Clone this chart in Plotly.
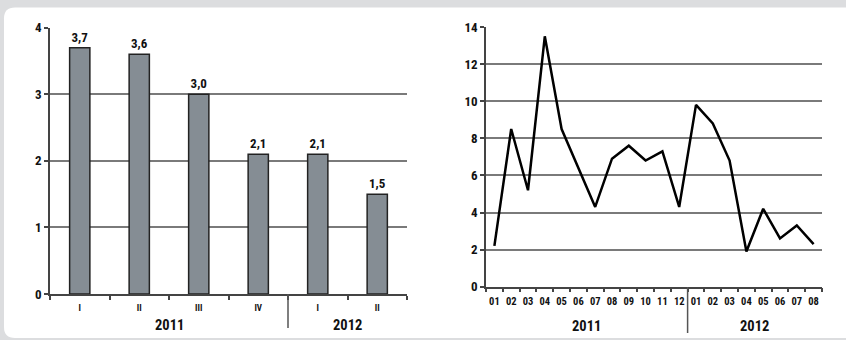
import plotly.graph_objects as go

# ---- data ----
q_years = ["2011", "2011", "2011", "2011", "2012", "2012"]
q_labels = ["I", "II", "III", "IV", "I", "II"]
q_values = [3.7, 3.6, 3.0, 2.1, 2.1, 1.5]

m_years = ["2011"] * 12 + ["2012"] * 8
m_labels = ["01", "02", "03", "04", "05", "06", "07", "08", "09", "10", "11", "12",
            "01", "02", "03", "04", "05", "06", "07", "08"]
m_values = [2.2, 8.5, 5.2, 13.5, 8.5, 6.4, 4.3, 6.9, 7.6, 6.8, 7.3, 4.3,
            9.8, 8.8, 6.8, 1.9, 4.2, 2.6, 3.3, 2.3]

W, H = 846, 340
def px(x):
    return x / W
def py(y):
    return 1 - y / H

FONT = "Liberation Sans Narrow, Roboto Condensed, Arial Narrow, Liberation Sans, sans-serif"
DARK = "#111111"
AXC = "#444444"
GRID = "#7a7a7a"

qx = list(range(len(q_values)))
mx = list(range(len(m_values)))

fig = go.Figure()

fig.add_trace(go.Bar(
    x=qx, y=q_values,
    width=0.34,
    marker=dict(color="#858d94", line=dict(color="#222222", width=1.5)),
    texttemplate="<b>%{y:.1f}</b>",
    textposition="outside",
    textfont=dict(size=13, color=DARK, family=FONT),
    cliponaxis=False,
    xaxis="x", yaxis="y",
    showlegend=False,
))

fig.add_trace(go.Scatter(
    x=mx, y=m_values,
    mode="lines",
    line=dict(color="#000000", width=2.5),
    xaxis="x2", yaxis="y2",
    showlegend=False,
))

def groups(years):
    out = []
    start = 0
    for i in range(1, len(years) + 1):
        if i == len(years) or years[i] != years[start]:
            out.append((years[start], start, i - 1))
            start = i
    return out

def xaxis_cfg(n, labels, dom, anchor, size, standoff):
    return dict(
        domain=dom, anchor=anchor, automargin=False,
        range=[-0.5, n - 0.5],
        showline=True, linecolor=AXC, linewidth=1.5,
        showgrid=False, zeroline=False,
        tickmode="array", tickvals=list(range(n)),
        ticktext=[f"<b>{l}</b>" for l in labels],
        ticks="", tickangle=0, ticklabelstandoff=standoff,
        tickfont=dict(family=FONT, size=size, color=DARK),
        minor=dict(tickmode="array",
                   tickvals=[i - 0.5 for i in range(n + 1)],
                   ticks="outside", ticklen=4, tickwidth=1.5, tickcolor=AXC,
                   showgrid=False),
    )

def yaxis_cfg(rng, dt, dom, anchor):
    return dict(
        domain=dom, anchor=anchor, automargin=False,
        range=rng, dtick=dt, tickformat="d",
        showline=True, linecolor=AXC, linewidth=1.5,
        showgrid=True, gridcolor=GRID, gridwidth=1.5,
        zeroline=False,
        ticks="outside", ticklen=4, tickwidth=1.5, tickcolor=AXC,
        tickprefix="<b>", ticksuffix="</b>",
        tickfont=dict(family=FONT, size=13, color=DARK),
    )

fig.update_layout(
    width=W, height=H,
    margin=dict(l=0, r=0, t=0, b=0),
    paper_bgcolor="#dcdddf",
    plot_bgcolor="rgba(0,0,0,0)",
    separators=",.",
    font=dict(family=FONT, color=DARK),
    xaxis=xaxis_cfg(len(q_labels), q_labels, [px(50), px(407)], "y", 9, 4),
    yaxis=yaxis_cfg([0, 4], 1, [py(294), py(27.7)], "x"),
    xaxis2=xaxis_cfg(len(m_labels), m_labels, [px(486), px(822)], "y2", 10.5, 4),
    yaxis2=yaxis_cfg([0, 14], 2, [py(286.7), py(27)], "x2"),
)

# year labels and dividers (derived from the year lists)
for years, xref, ylab, ytop, ybot in [(q_years, "x", 325, 294, 328),
                                      (m_years, "x2", 326, 287, 333)]:
    g = groups(years)
    for name, s, e in g:
        fig.add_annotation(x=(s + e) / 2, xref=xref, y=py(ylab), yref="paper",
                           text=f"<b>{name}</b>", showarrow=False,
                           font=dict(family=FONT, size=14.5, color=DARK),
                           yanchor="middle")
    for name, s, e in g[1:]:
        fig.add_shape(type="line", xref=xref, yref="paper",
                      x0=s - 0.5, x1=s - 0.5, y0=py(ytop), y1=py(ybot),
                      line=dict(color="#555555", width=1.5))

# white rounded panel
x0, x1, y0, y1, r = 4, 860, 7.5, 338, 11
path = (f"M {px(x0+r)},{py(y0)} L {px(x1)},{py(y0)} L {px(x1)},{py(y1)} "
        f"L {px(x0+r)},{py(y1)} Q {px(x0)},{py(y1)} {px(x0)},{py(y1-r)} "
        f"L {px(x0)},{py(y0+r)} Q {px(x0)},{py(y0)} {px(x0+r)},{py(y0)} Z")
fig.add_shape(type="path", path=path, xref="paper", yref="paper",
              fillcolor="#ffffff", line=dict(width=0), layer="below")

fig.write_html("out.html")
